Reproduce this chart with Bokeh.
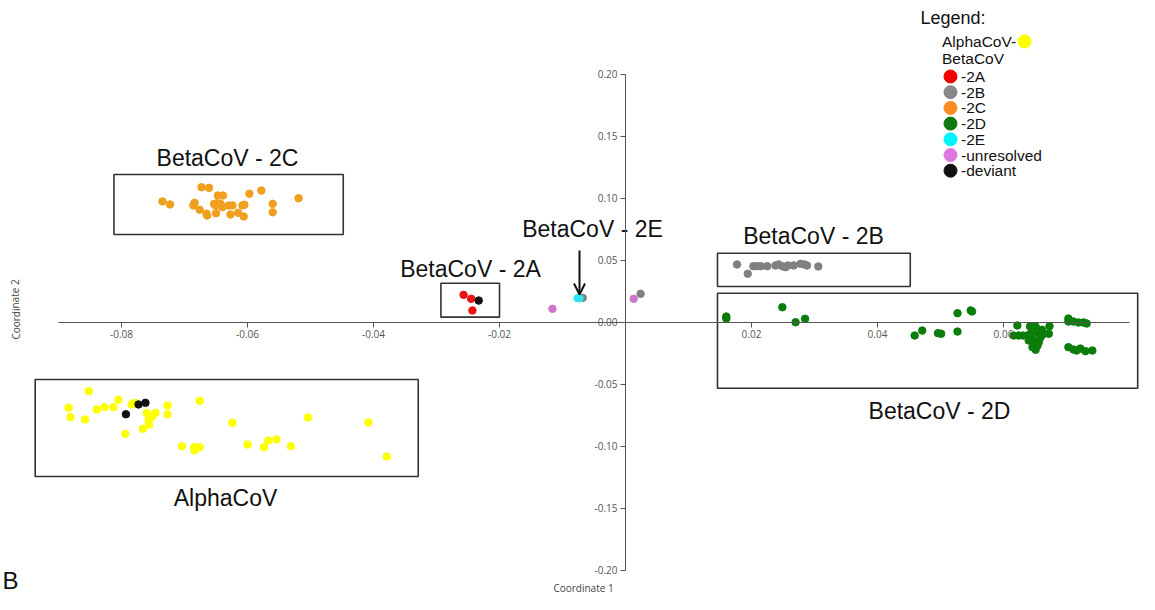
from bokeh.plotting import figure
from bokeh.models import LinearAxis, FixedTicker, PrintfTickFormatter, Range1d, Arrow, OpenHead
from bokeh.embed import file_html
from bokeh.resources import INLINE
from bokeh.core.properties import value

# ---------------- data (Coordinate 1, Coordinate 2) ----------------
alpha_x = [-0.0852, -0.0884, -0.0881, -0.0858, -0.0839, -0.0827, -0.0813, -0.0805, -0.0784, -0.0779,
           -0.0794, -0.0766, -0.0760, -0.0757, -0.0751, -0.0746, -0.0756, -0.0727, -0.0727, -0.0676,
           -0.0704, -0.0685, -0.0684, -0.0676, -0.0624, -0.0600, -0.0574, -0.0567, -0.0554, -0.0531,
           -0.0504, -0.0408, -0.0379]
alpha_y = [-0.0558, -0.0692, -0.0768, -0.0786, -0.0706, -0.0687, -0.0687, -0.0627, -0.0665, -0.0652,
           -0.0902, -0.0861, -0.0735, -0.0794, -0.0762, -0.0732, -0.0827, -0.0673, -0.0744, -0.0635,
           -0.1002, -0.1010, -0.1036, -0.1010, -0.0813, -0.0988, -0.1010, -0.0956, -0.0948, -0.1002,
           -0.0770, -0.0810, -0.1085]

b2a_x = [-0.0257, -0.0245, -0.0243]
b2a_y = [0.0219, 0.0187, 0.0093]

b2b_x = [0.0177, 0.0194, 0.0203, 0.0209, 0.0215, 0.0225, 0.0238, 0.0243, 0.0249, 0.0254,
         0.0258, 0.0267, 0.0278, 0.0284, 0.0288, 0.0306, -0.0068, 0.0024]
b2b_y = [0.0464, 0.0389, 0.0450, 0.0450, 0.0450, 0.0450, 0.0456, 0.0464, 0.0450, 0.0442,
         0.0456, 0.0456, 0.0469, 0.0464, 0.0456, 0.0448, 0.0195, 0.0227]

b2c_x = [-0.0735, -0.0723, -0.0673, -0.0661, -0.0647, -0.0639, -0.0597, -0.0578, -0.0519, -0.0686,
         -0.0684, -0.0676, -0.0665, -0.0664, -0.0653, -0.0651, -0.0648, -0.0643, -0.0640, -0.0650,
         -0.0630, -0.0624, -0.0627, -0.0615, -0.0608, -0.0605, -0.0606, -0.0560, -0.0560]
b2c_y = [0.0972, 0.0948, 0.1087, 0.1082, 0.1020, 0.1020, 0.1034, 0.1060, 0.0998, 0.0940,
         0.0961, 0.0905, 0.0873, 0.0859, 0.0953, 0.0940, 0.0958, 0.0953, 0.0926, 0.0877,
         0.0940, 0.0940, 0.0867, 0.0881, 0.0940, 0.0945, 0.0851, 0.0953, 0.0885]

b2d_x = [0.0160, 0.0160, 0.0249, 0.0270, 0.0285, 0.0459, 0.0471, 0.0496, 0.0501, 0.0527,
         0.0527, 0.0548, 0.0550, 0.0622, 0.0616, 0.0624, 0.0631, 0.0642, 0.0651, 0.0643,
         0.0653, 0.0661, 0.0673, 0.0672, 0.0640, 0.0648, 0.0656, 0.0646, 0.0654, 0.0651,
         0.0659, 0.0664, 0.0638, 0.0703, 0.0703, 0.0711, 0.0719, 0.0727, 0.0732, 0.0703,
         0.0711, 0.0722, 0.0730, 0.0741, 0.0716]
b2d_y = [0.0044, 0.0028, 0.0119, -0.0002, 0.0026, -0.0109, -0.0069, -0.0090, -0.0095, 0.0071,
         -0.0077, 0.0093, 0.0085, -0.0028, -0.0109, -0.0109, -0.0109, -0.0036, -0.0036, -0.0095,
         -0.0082, -0.0063, -0.0034, -0.0095, -0.0149, -0.0144, -0.0163, -0.0203, -0.0190, -0.0224,
         -0.0123, -0.0095, -0.0109, 0.0028, 0.0004, 0.0004, -0.0004, -0.0004, -0.0012, -0.0203,
         -0.0222, -0.0214, -0.0235, -0.0230, -0.0230]

b2e_x = [-0.0076, -0.0073]
b2e_y = [0.0192, 0.0192]

unres_x = [-0.0116, 0.0013]
unres_y = [0.0106, 0.0187]

dev_x = [-0.0793, -0.0773, -0.0762, -0.0233]
dev_y = [-0.0744, -0.0665, -0.0652, 0.0173]

x_ticks = [-0.08, -0.06, -0.04, -0.02, 0.02, 0.04, 0.06]
y_ticks = [-0.20, -0.15, -0.10, -0.05, 0.00, 0.05, 0.10, 0.15, 0.20]

# group frames: (left, right, bottom, top) and group names
box_names = ["BetaCoV - 2C", "BetaCoV - 2A", "BetaCoV - 2B", "BetaCoV - 2D", "AlphaCoV"]
box_left = [-0.0812, -0.0293, 0.0146, 0.0146, -0.0937]
box_right = [-0.0448, -0.0200, 0.0452, 0.0813, -0.0329]
box_bottom = [0.0706, 0.0039, 0.0286, -0.0534, -0.1246]
box_top = [0.1190, 0.0313, 0.0555, 0.0232, -0.0464]

legend_labels = ["-2A", "-2B", "-2C", "-2D", "-2E", "-unresolved", "-deviant"]

# ---------------- styles ----------------
C_ALPHA = "#ffff00"
C_2A = "#ee1111"
C_2B = "#808080"
C_2C = "#f0a01e"
C_2D = "#0a7d0a"
C_2E = "#2de6f0"
C_UN = "#cc77cc"
C_DEV = "#111111"
legend_colors = ["#f00000", "#888888", "#fb8b1e", "#0e7a0e", "#00f5ff", "#dd77dd", "#111111"]

W, H = 1139, 594
OFF = 0
X0_PX, X_SCALE = 625.0, 6300.0
Y0_PX, Y_SCALE = 321.5, 1240.0


def dx(px):
    return (px - X0_PX) / X_SCALE


def dy(py):
    return (Y0_PX - py) / Y_SCALE


p = figure(width=W, height=H, output_backend="svg", toolbar_location=None,
           x_range=Range1d(dx(OFF), dx(OFF + W)), y_range=Range1d(dy(OFF + H), dy(OFF)),
           x_axis_location=None, y_axis_location=None,
           min_border=0, min_border_left=0, min_border_right=0, min_border_top=0, min_border_bottom=0,
           outline_line_color=None, background_fill_color="white", border_fill_color="white")
p.grid.visible = False

AX_COLOR = "#555555"
xaxis = LinearAxis(fixed_location=0, bounds=(-0.09, 0.08), ticker=FixedTicker(ticks=x_ticks),
                   formatter=PrintfTickFormatter(format="%.2f"))
yaxis = LinearAxis(fixed_location=0, bounds=(-0.20, 0.20), ticker=FixedTicker(ticks=y_ticks),
                   formatter=PrintfTickFormatter(format="%.2f"))
for ax in (xaxis, yaxis):
    ax.axis_line_color = AX_COLOR
    ax.axis_line_width = 1
    ax.major_tick_line_color = AX_COLOR
    ax.major_tick_out = 5
    ax.major_tick_in = 0
    ax.minor_tick_line_color = None
    ax.major_label_text_font = "Open Sans"
    ax.major_label_text_font_size = "10px"
    ax.major_label_text_color = AX_COLOR
    ax.major_label_standoff = 3
p.add_layout(xaxis, "below")
p.add_layout(yaxis, "left")

# group frames
p.quad(left=box_left, right=box_right, bottom=box_bottom, top=box_top,
       fill_color=None, line_color="#333333", line_width=1.6)

MS = 7.5
p.scatter(alpha_x, alpha_y, size=MS, color=C_ALPHA)
p.scatter(b2c_x, b2c_y, size=MS, color=C_2C)
p.scatter(b2a_x, b2a_y, size=MS, color=C_2A)
p.scatter(b2b_x, b2b_y, size=MS, color=C_2B)
p.scatter(b2d_x, b2d_y, size=MS, color=C_2D)
p.scatter(unres_x, unres_y, size=MS, color=C_UN)
p.scatter(b2e_x, b2e_y, size=MS, color=C_2E)
p.scatter(dev_x, dev_y, size=MS, color=C_DEV)

# group labels
lab_x = [dx(227), dx(470), dx(813), dx(939), dx(225), dx(592)]
lab_y = [dy(157), dy(268), dy(235), dy(410), dy(497), dy(228)]
lab_t = box_names + ["BetaCoV - 2E"]
p.text(x=lab_x, y=lab_y, text=lab_t, text_font=value("Liberation Sans"), text_font_size="23px",
       text_align="center", text_baseline="middle", text_color="#111111")

# arrow to 2E
p.add_layout(Arrow(end=OpenHead(size=11, line_width=2, line_color="#111111"),
                   x_start=dx(579), y_start=dy(250), x_end=dx(579), y_end=dy(294),
                   line_width=2, line_color="#111111"))

# legend
p.text(x=[dx(920)], y=[dy(17)], text=["Legend:"], text_font=value("Liberation Sans"),
       text_font_size="18px", text_baseline="middle", text_color="#111111")
p.text(x=[dx(941.5), dx(941.5)], y=[dy(41), dy(57.5)], text=["AlphaCoV-", "BetaCoV"],
       text_font=value("Liberation Sans"), text_font_size="15.5px", text_baseline="middle",
       text_color="#111111")
p.scatter([dx(1024)], [dy(41)], size=13, color=C_ALPHA)
leg_y = [dy(76 + 15.7 * i) for i in range(len(legend_labels))]
p.scatter([dx(950)] * len(legend_labels), leg_y, size=13, color=legend_colors)
p.text(x=[dx(960.5)] * len(legend_labels), y=leg_y, text=legend_labels,
       text_font=value("Liberation Sans"), text_font_size="15.5px", text_baseline="middle",
       text_color="#111111")

# axis titles
p.text(x=[dx(583)], y=[dy(587)], text=["Coordinate 1"], text_font=value("Open Sans"),
       text_font_size="10px", text_align="center", text_baseline="middle", text_color="#444444")
p.text(x=[dx(15)], y=[dy(309)], text=["Coordinate 2"], text_font=value("Open Sans"),
       text_font_size="10px", text_align="center", text_baseline="middle", text_color="#444444",
       angle=1.5708)

# panel letter
p.text(x=[dx(2)], y=[dy(593)], text=["B"], text_font=value("Liberation Sans"),
       text_font_size="24px", text_baseline="bottom", text_color="#111111")

open("out.html", "w").write(file_html(p, INLINE))
